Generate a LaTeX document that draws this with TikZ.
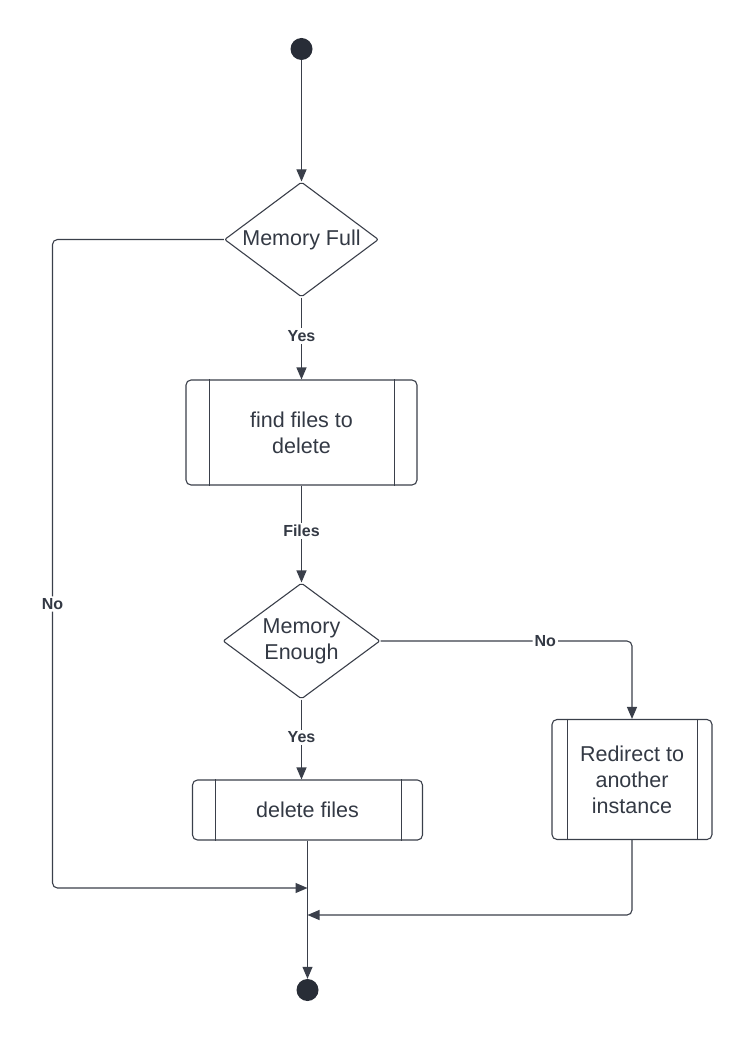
\documentclass[tikz,border=0pt]{standalone}
\usepackage{fontspec}
\setmainfont{Liberation Sans}
\usetikzlibrary{shapes.geometric,arrows.meta}
\definecolor{ink}{HTML}{3A3F4A}
\definecolor{txt}{HTML}{333944}
\definecolor{dot}{HTML}{282D37}
\begin{document}
\begin{tikzpicture}[x=1pt,y=-1pt,
  wire/.style={draw=ink,line width=1.1pt},
  flow/.style={wire,-{Triangle[length=12pt,width=10pt]}},
  body/.style={font=\fontsize{21.5}{26}\selectfont,text=txt,align=center},
  decision/.style={body,diamond,draw=ink,line width=1.1pt,inner sep=0pt,aspect=1.34,rounded corners=2pt},
  process/.style={body,rectangle,draw=ink,line width=1.1pt,rounded corners=5pt},
  tag/.style={fill=white,font=\bfseries\fontsize{16}{19}\selectfont,text=txt,inner sep=2pt},
  dotnode/.style={circle,fill=dot,minimum size=22pt,inner sep=0pt}]

\useasboundingbox (0,0) rectangle (752,1040);

% nodes
\node[dotnode] (start) at (301.5,49) {};
\node[decision,minimum width=154pt,minimum height=115pt] (mf) at (301.5,239.5) {Memory Full};
\node[process,minimum width=231pt,minimum height=105pt] (find) at (301.5,432.5) {find files to\\delete};
\node[decision,minimum width=157pt,minimum height=116pt] (me) at (301.5,641) {Memory\\Enough};
\node[process,minimum width=230pt,minimum height=60pt] (del) at (307.5,810) {delete files};
\node[process,minimum width=160pt,minimum height=120pt] (redir) at (632,779.5) {Redirect to\\another\\instance};
\node[dotnode] (stop) at (307.5,990) {};

% side bars of the process boxes
\draw[wire] ([xshift=24pt]find.north west) -- ([xshift=24pt]find.south west);
\draw[wire] ([xshift=-23pt]find.north east) -- ([xshift=-23pt]find.south east);
\draw[wire] ([xshift=23.5pt]del.north west) -- ([xshift=23.5pt]del.south west);
\draw[wire] ([xshift=-22pt]del.north east) -- ([xshift=-22pt]del.south east);
\draw[wire] ([xshift=16pt]redir.north west) -- ([xshift=16pt]redir.south west);
\draw[wire] ([xshift=-15pt]redir.north east) -- ([xshift=-15pt]redir.south east);

% junction points on the final line
\coordinate (lx) at (52.5,888);
\coordinate (j1) at (307.5,888);
\coordinate (j2) at (307.5,915);

% connectors
\draw[flow] (start) -- (mf);
\draw[flow] (mf) -- node[tag,pos=0.47] {Yes} (find);
\draw[flow] (find) -- node[tag,pos=0.47] {Files} (me);
\draw[flow] (me) -- node[tag,pos=0.47] {Yes} (me.south |- del.north);
\draw[flow,rounded corners=5pt] (me.east) -- node[tag,pos=0.655] {No} (me.east -| redir.north) -- (redir.north);
\draw[flow,rounded corners=5pt] (mf.west) -| node[tag,pos=0.781] {No} (lx) -- (j1);
\draw[flow,rounded corners=5pt] (redir.south) |- (j2);
\draw[flow] (del.south) -- (stop);
\end{tikzpicture}
\end{document}
